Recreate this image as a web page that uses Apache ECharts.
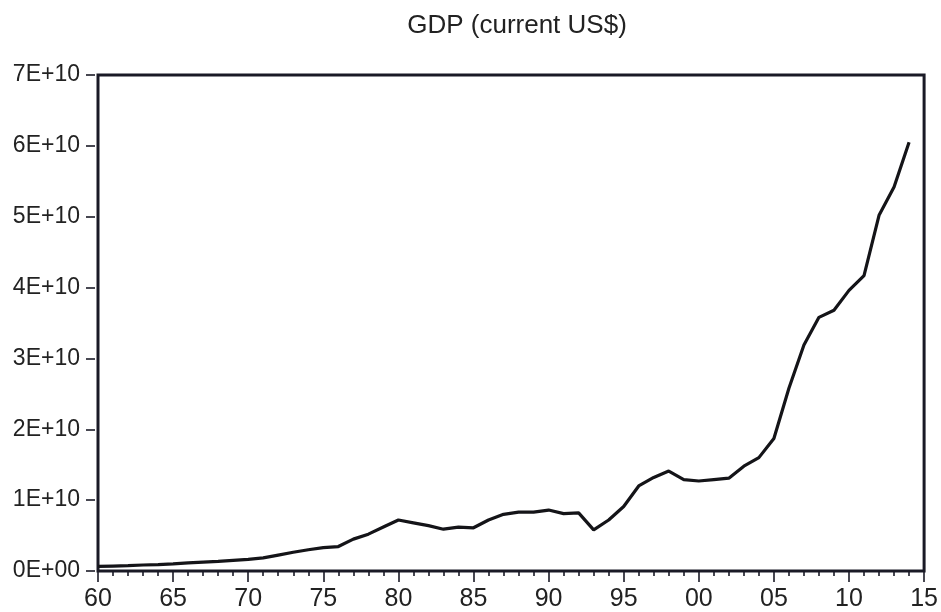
<!DOCTYPE html>
<html>
<head>
<meta charset="utf-8">
<script src="https://cdn.jsdelivr.net/npm/echarts@6/dist/echarts.min.js"></script>
<style>
  html, body { margin: 0; padding: 0; background: #ffffff; }
  #chart { width: 941px; height: 612px; }
</style>
</head>
<body>
<div id="chart"></div>
<script>
// Annual GDP, current US$
const years = [
  1960, 1961, 1962, 1963, 1964, 1965, 1966, 1967, 1968, 1969,
  1970, 1971, 1972, 1973, 1974, 1975, 1976, 1977, 1978, 1979,
  1980, 1981, 1982, 1983, 1984, 1985, 1986, 1987, 1988, 1989,
  1990, 1991, 1992, 1993, 1994, 1995, 1996, 1997, 1998, 1999,
  2000, 2001, 2002, 2003, 2004, 2005, 2006, 2007, 2008, 2009,
  2010, 2011, 2012, 2013, 2014
];
const gdp = [
  6.5e8, 7.0e8, 7.5e8, 8.5e8, 9.0e8, 1.00e9, 1.15e9, 1.25e9, 1.35e9, 1.50e9,
  1.65e9, 1.85e9, 2.25e9, 2.65e9, 3.0e9, 3.3e9, 3.45e9, 4.5e9, 5.2e9, 6.2e9,
  7.2e9, 6.8e9, 6.4e9, 5.9e9, 6.2e9, 6.1e9, 7.2e9, 8.0e9, 8.3e9, 8.3e9,
  8.6e9, 8.1e9, 8.2e9, 5.8e9, 7.2e9, 9.1e9, 1.20e10, 1.32e10, 1.41e10, 1.29e10,
  1.27e10, 1.29e10, 1.31e10, 1.48e10, 1.60e10, 1.87e10, 2.58e10, 3.19e10, 3.58e10, 3.68e10,
  3.96e10, 4.17e10, 5.02e10, 5.42e10, 6.05e10
];
const yTicks = ['0E+00', '1E+10', '2E+10', '3E+10', '4E+10', '5E+10', '6E+10', '7E+10'];

const chart = echarts.init(document.getElementById('chart'), null, { renderer: 'canvas' });
const font = '"Liberation Sans", Arial, sans-serif';
const ink = '#1a1a26';

chart.setOption({
  backgroundColor: '#ffffff',
  animation: false,
  title: {
    text: 'GDP (current US$)',
    left: 512,
    textAlign: 'center',
    top: 8,
    textStyle: { fontFamily: font, fontSize: 26, fontWeight: 'normal', color: '#222' }
  },
  grid: {
    left: 98, right: 14, top: 75, bottom: 41,
    show: true,
    borderColor: ink,
    borderWidth: 3,
    backgroundColor: '#ffffff'
  },
  xAxis: {
    type: 'value',
    min: 1960, max: 2015, interval: 5,
    offset: 4,
    axisLine: { show: false },
    axisTick: { show: true, length: 11, lineStyle: { color: ink, width: 1.6 } },
    minorTick: { show: true, splitNumber: 5, length: 5, lineStyle: { color: ink, width: 1.6 } },
    splitLine: { show: false },
    axisLabel: {
      margin: 12,
      fontFamily: font, fontSize: 25, color: '#222',
      formatter: v => String(v % 100).padStart(2, '0')
    }
  },
  yAxis: {
    type: 'value',
    min: 0, max: 7e10, interval: 1e10,
    offset: 3,
    axisLine: { show: false },
    axisTick: { show: true, length: 9, lineStyle: { color: ink, width: 1.6 } },
    splitLine: { show: false },
    axisLabel: {
      margin: 15,
      fontFamily: font, fontSize: 23, color: '#222',
      formatter: v => yTicks[Math.round(v / 1e10)]
    }
  },
  series: [{
    type: 'line',
    data: years.map((y, i) => [y, gdp[i]]),
    showSymbol: false,
    lineStyle: { color: '#141418', width: 3.2 },
    itemStyle: { color: '#141418' }
  }]
});
</script>
</body>
</html>
